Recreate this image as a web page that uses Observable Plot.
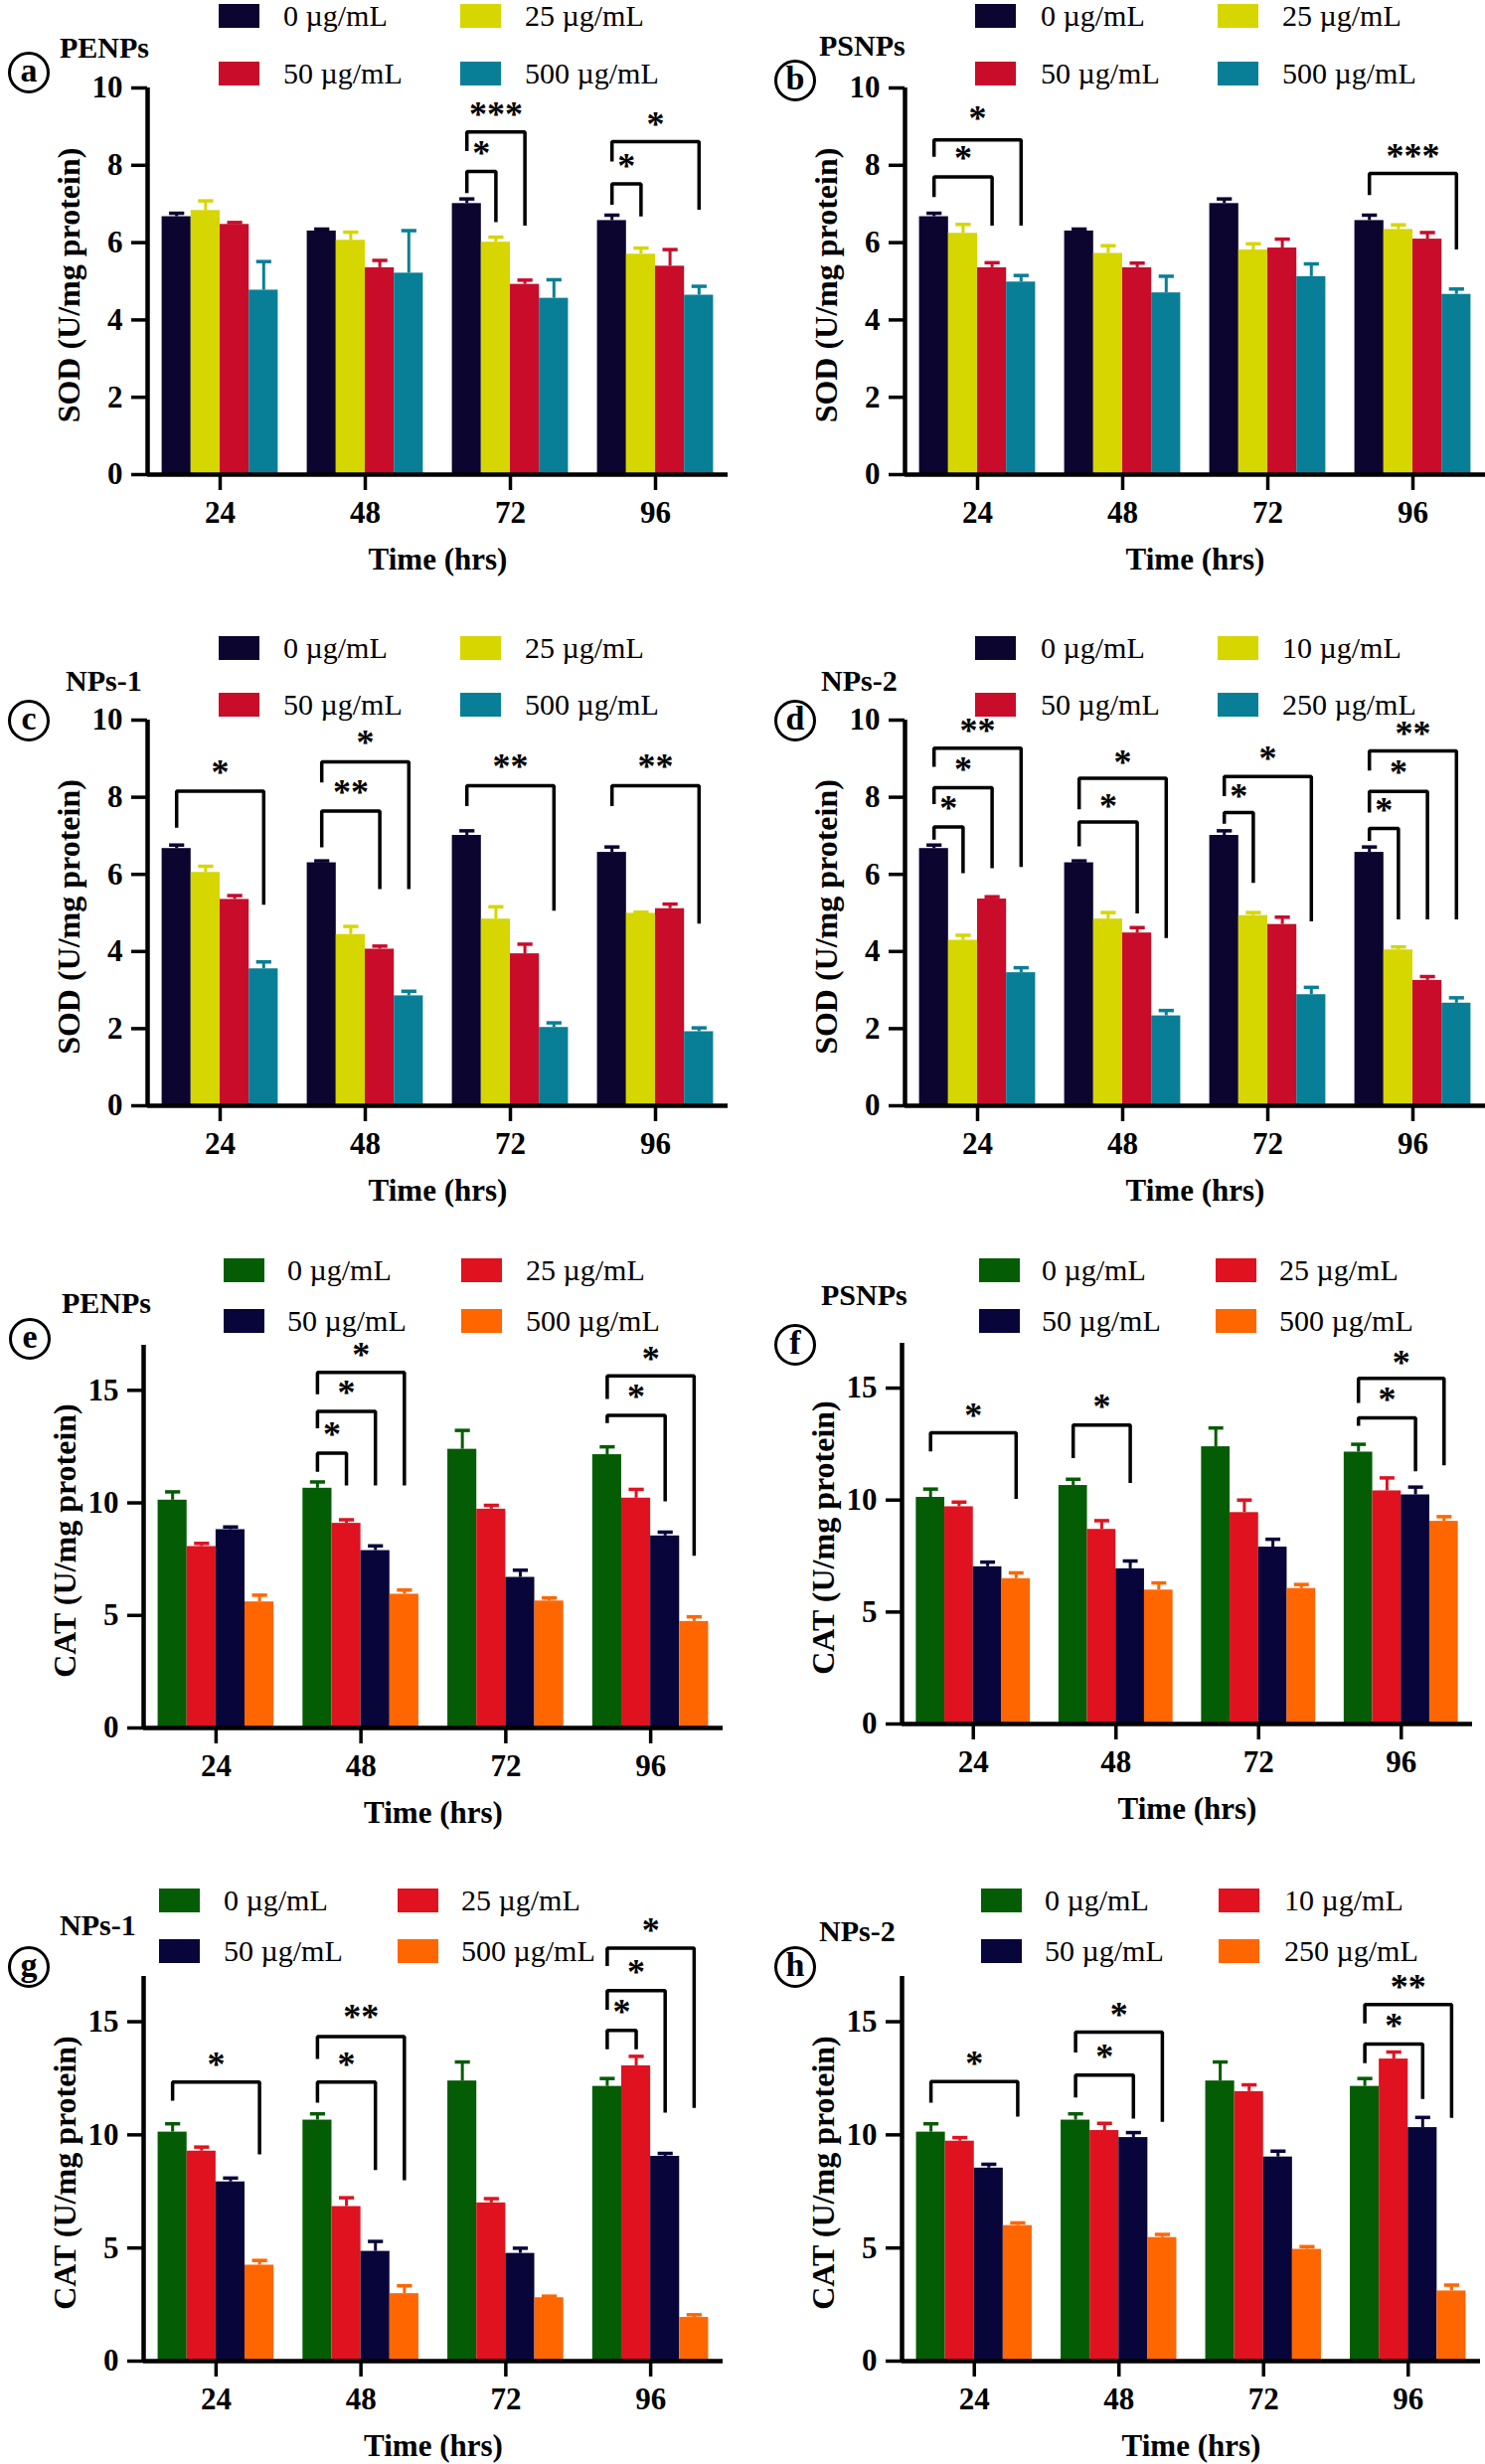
<!DOCTYPE html>
<html><head><meta charset="utf-8">
<script src="https://cdn.jsdelivr.net/npm/d3@7"></script>
<script src="https://cdn.jsdelivr.net/npm/@observablehq/plot@0.6"></script>
<style>
body{margin:0;background:#fff;}
#root{position:relative;width:1494px;height:2479px;overflow:hidden;font-family:"Liberation Serif","Times New Roman",serif;color:#000;}
.panel{position:absolute;}
.sw{position:absolute;width:41px;height:24px;}
.lt{position:absolute;font-size:30px;line-height:1;white-space:nowrap;transform:translateY(-50%);}
.ttl{position:absolute;font-size:30px;font-weight:bold;line-height:1;white-space:nowrap;transform:translateY(-50%);}
.circ{position:absolute;width:36px;height:36px;border:3px solid #000;border-radius:50%;transform:translate(-50%,-50%);display:flex;align-items:center;justify-content:center;font-size:34px;font-weight:bold;line-height:1;}
.circ span{position:relative;top:-2px;}
</style>
</head><body><div id="root"></div>
<script>
// ---------- data ----------
const times = [24, 48, 72, 96];
const labelsStd = ["0 µg/mL", "25 µg/mL", "50 µg/mL", "500 µg/mL"];
const labelsNP2 = ["0 µg/mL", "10 µg/mL", "50 µg/mL", "250 µg/mL"];
const sodColors = ["#0c0530", "#d6d600", "#c80c2a", "#087f96"];
const catColors = ["#045c04", "#e0121f", "#08053a", "#ff6600"];
const sodTicks = [0, 2, 4, 6, 8, 10];
const catTicks = [0, 5, 10, 15];

const sodCtrl = [6.67, 6.30, 7.01, 6.57];
const sodCtrlErr = [0.09, 0.05, 0.12, 0.14];
const catCtrl = [10.12, 10.65, 12.38, 12.14];
const catCtrlErr = [0.37, 0.28, 0.84, 0.35];

// (a) PENPs SOD
const aVals = [sodCtrl, [6.83, 6.06, 6.01, 5.70], [6.47, 5.35, 4.92, 5.39], [4.77, 5.21, 4.56, 4.64]];
const aErrs = [sodCtrlErr, [0.25, 0.21, 0.13, 0.16], [0.05, 0.19, 0.11, 0.43], [0.74, 1.10, 0.48, 0.23]];
// (b) PSNPs SOD
const bVals = [sodCtrl, [6.24, 5.72, 5.81, 6.34], [5.35, 5.35, 5.86, 6.09], [4.98, 4.70, 5.12, 4.66]];
const bErrs = [sodCtrlErr, [0.23, 0.20, 0.16, 0.12], [0.13, 0.12, 0.23, 0.17], [0.17, 0.43, 0.33, 0.14]];
// (c) NPs-1 SOD
const cVals = [sodCtrl, [6.05, 4.44, 4.84, 4.99], [5.35, 4.06, 3.94, 5.11], [3.55, 2.85, 2.03, 1.92]];
const cErrs = [sodCtrlErr, [0.16, 0.21, 0.32, 0.03], [0.10, 0.08, 0.25, 0.12], [0.18, 0.12, 0.12, 0.10]];
// (d) NPs-2 SOD
const dVals = [sodCtrl, [4.29, 4.84, 4.93, 4.04], [5.36, 4.48, 4.70, 3.25], [3.45, 2.33, 2.88, 2.66]];
const dErrs = [sodCtrlErr, [0.13, 0.17, 0.08, 0.08], [0.06, 0.14, 0.19, 0.10], [0.13, 0.14, 0.19, 0.14]];
// (e) PENPs CAT
const eVals = [catCtrl, [8.06, 9.09, 9.72, 10.21], [8.81, 7.88, 6.69, 8.53], [5.60, 5.94, 5.64, 4.73]];
const eErrs = [catCtrlErr, [0.14, 0.16, 0.17, 0.39], [0.12, 0.21, 0.32, 0.17], [0.30, 0.19, 0.14, 0.21]];
// (f) PSNPs CAT
const fVals = [catCtrl, [9.70, 8.69, 9.44, 10.41], [7.02, 6.93, 7.90, 10.23], [6.49, 5.98, 6.05, 9.05]];
const fErrs = [catCtrlErr, [0.21, 0.39, 0.56, 0.58], [0.21, 0.35, 0.35, 0.35], [0.26, 0.32, 0.18, 0.21]];
// (g) NPs-1 CAT
const gVals = [catCtrl, [9.28, 6.83, 6.99, 13.05], [7.92, 4.85, 4.76, 9.05], [4.24, 2.98, 2.80, 1.93]];
const gErrs = [catCtrlErr, [0.18, 0.39, 0.19, 0.42], [0.17, 0.44, 0.23, 0.13], [0.21, 0.35, 0.07, 0.12]];
// (h) NPs-2 CAT
const hVals = [catCtrl, [9.72, 10.19, 11.91, 13.35], [8.53, 9.88, 9.02, 10.32], [5.99, 5.46, 4.94, 3.10]];
const hErrs = [catCtrlErr, [0.16, 0.32, 0.30, 0.31], [0.17, 0.22, 0.26, 0.45], [0.12, 0.14, 0.12, 0.26]];

// significance brackets: [time, compared group, bracket top, left leg end, right leg end, label, label y]
const aSig = [[72, 1, 7.84, 7.28, 6.53, "*", 8.47], [72, 2, 8.86, 8.37, 6.44, "***", 9.46],
              [96, 1, 7.52, 6.98, 6.68, "*", 8.12], [96, 3, 8.61, 8.10, 6.85, "*", 9.20]];
const bSig = [[24, 2, 7.70, 7.18, 6.44, "*", 8.32], [24, 3, 8.66, 8.22, 6.44, "*", 9.36],
              [96, 3, 7.79, 7.23, 5.82, "***", 8.39]];
const cSig = [[24, 3, 8.16, 7.21, 5.21, "*", 8.79], [48, 2, 7.64, 6.70, 5.62, "**", 8.28],
              [48, 3, 8.92, 8.38, 5.62, "*", 9.56], [72, 3, 8.30, 7.77, 5.06, "**", 8.95],
              [96, 3, 8.30, 7.77, 4.72, "**", 8.95]];
const dSig = [[24, 1, 7.23, 6.90, 6.03, "*", 7.87], [24, 2, 8.25, 7.82, 6.16, "*", 8.87],
              [24, 3, 9.27, 8.79, 6.19, "**", 9.87], [48, 2, 7.36, 6.73, 4.99, "*", 7.92],
              [48, 3, 8.49, 7.69, 4.35, "*", 9.05], [72, 1, 7.60, 7.31, 5.78, "*", 8.18],
              [72, 3, 8.54, 8.03, 4.78, "*", 9.15], [96, 1, 7.19, 6.87, 4.83, "*", 7.82],
              [96, 2, 8.15, 7.60, 4.83, "*", 8.79], [96, 3, 9.20, 8.69, 4.83, "**", 9.80]];
const eSig = [[48, 1, 12.21, 11.38, 10.77, "*", 13.31], [48, 2, 14.06, 13.31, 10.77, "*", 15.15],
              [48, 3, 15.80, 14.83, 10.77, "*", 16.81], [96, 2, 13.89, 13.55, 10.07, "*", 14.97],
              [96, 3, 15.64, 14.62, 7.65, "*", 16.64]];
const fSig = [[24, 3, 13.00, 12.17, 10.05, "*", 14.02], [48, 2, 13.35, 11.87, 10.76, "*", 14.41],
              [96, 2, 13.67, 13.32, 11.29, "*", 14.73], [96, 3, 15.43, 14.34, 11.55, "*", 16.40]];
const gSig = [[24, 3, 12.33, 11.51, 9.14, "*", 13.35], [48, 2, 12.33, 11.42, 8.44, "*", 13.35],
              [48, 3, 14.34, 13.35, 8.00, "**", 15.45], [96, 1, 14.62, 13.78, 13.78, "*", 15.67],
              [96, 2, 16.37, 15.53, 10.98, "*", 17.46], [96, 3, 18.25, 17.46, 11.19, "*", 19.30]];
const hSig = [[24, 3, 12.35, 11.42, 10.81, "*", 13.40], [48, 2, 12.64, 11.65, 10.72, "*", 13.70],
              [48, 3, 14.54, 13.64, 10.58, "*", 15.57], [96, 2, 14.01, 13.17, 11.59, "*", 15.06],
              [96, 3, 15.76, 14.92, 10.75, "**", 16.76]];

// ---------- layout ----------
const BAR_W = 4.8;   // bar width in hours
const CAP = 1.25;    // half error-cap width in hours
const panels = [
  {id:"a", name:"PENPs", vals:aVals, errs:aErrs, sig:aSig, colors:sodColors, labels:labelsStd, ylabel:"SOD (U/mg protein)", yMax:10, ticks:sodTicks,
   left:0, top:0, h:620, m:[88,15,143,148], leg:{rows:[16,74], cols:[220,285,463,528]}, title:[60,48], circ:[29,73]},
  {id:"b", name:"PSNPs", vals:bVals, errs:bErrs, sig:bSig, colors:sodColors, labels:labelsStd, ylabel:"SOD (U/mg protein)", yMax:10, ticks:sodTicks,
   left:747, top:0, h:620, m:[88,0,143,163], leg:{rows:[16,74], cols:[981,1047,1225,1290]}, title:[824,46], circ:[800,81]},
  {id:"c", name:"NPs-1", vals:cVals, errs:cErrs, sig:cSig, colors:sodColors, labels:labelsStd, ylabel:"SOD (U/mg protein)", yMax:10, ticks:sodTicks,
   left:0, top:620, h:620, m:[104,15,128,148], leg:{rows:[652,709], cols:[220,285,463,528]}, title:[66,685], circ:[29,725]},
  {id:"d", name:"NPs-2", vals:dVals, errs:dErrs, sig:dSig, colors:sodColors, labels:labelsNP2, ylabel:"SOD (U/mg protein)", yMax:10, ticks:sodTicks,
   left:747, top:620, h:620, m:[104,0,128,163], leg:{rows:[652,709], cols:[981,1047,1225,1290]}, title:[826,685], circ:[800,725]},
  {id:"e", name:"PENPs", vals:eVals, errs:eErrs, sig:eSig, colors:catColors, labels:labelsStd, ylabel:"CAT (U/mg protein)", yMax:17, ticks:catTicks,
   left:0, top:1240, h:620, m:[113,20,122,144], leg:{rows:[1278,1329], cols:[225,289,464,529]}, title:[62,1311], circ:[30,1347]},
  {id:"f", name:"PSNPs", vals:fVals, errs:fErrs, sig:fSig, colors:catColors, labels:labelsStd, ylabel:"CAT (U/mg protein)", yMax:17, ticks:catTicks,
   left:747, top:1240, h:620, m:[111,13,126,160], leg:{rows:[1278,1329], cols:[985,1048,1223,1287]}, title:[826,1303], circ:[800,1353]},
  {id:"g", name:"NPs-1", vals:gVals, errs:gErrs, sig:gSig, colors:catColors, labels:labelsStd, ylabel:"CAT (U/mg protein)", yMax:17, ticks:catTicks,
   left:0, top:1860, h:619, m:[128,20,104,144], leg:{rows:[1912,1963], cols:[160,225,400,464]}, title:[60,1937], circ:[29,1979]},
  {id:"h", name:"NPs-2", vals:hVals, errs:hErrs, sig:hSig, colors:catColors, labels:labelsNP2, ylabel:"CAT (U/mg protein)", yMax:17, ticks:catTicks,
   left:747, top:1860, h:619, m:[128,5,104,160], leg:{rows:[1912,1963], cols:[987,1051,1226,1292]}, title:[824,1943], circ:[800,1979]}
];

const root = document.getElementById("root");
function el(cls, css, html) {
  const d = document.createElement("div");
  d.className = cls;
  Object.assign(d.style, css);
  if (html != null) d.innerHTML = html;
  root.appendChild(d);
  return d;
}

for (const p of panels) {
  const rows = [];
  p.vals.forEach((arr, g) => arr.forEach((v, i) => rows.push({t: times[i], g, v, e: p.errs[g][i], c: p.colors[g]})));
  const cx = d => d.t + (d.g - 1.5) * BAR_W;
  const bpts = [];
  p.sig.forEach((b, k) => {
    const x0 = b[0] - 1.5 * BAR_W, x1 = b[0] + (b[1] - 1.5) * BAR_W;
    bpts.push({k, x: x0, y: b[3]}, {k, x: x0, y: b[2]}, {k, x: x1, y: b[2]}, {k, x: x1, y: b[4]});
  });
  const stars = p.sig.map(b => ({x: b[0] + (b[1] / 2 - 1.5) * BAR_W, y: b[6], s: b[5]}));

  const svg = Plot.plot({
    width: 747, height: p.h,
    marginTop: p.m[0], marginRight: p.m[1], marginBottom: p.m[2], marginLeft: p.m[3],
    x: {domain: [12, 108]},
    y: {domain: [0, p.yMax]},
    color: {type: "identity"},
    style: {fontFamily: "'Liberation Serif','Times New Roman',serif", fontSize: "30px", fontWeight: "bold", color: "#000", background: "transparent", overflow: "visible"},
    marks: [
      Plot.rectY(rows, {x1: d => d.t + (d.g - 2) * BAR_W, x2: d => d.t + (d.g - 1) * BAR_W, y1: 0, y2: "v", fill: "c"}),
      Plot.ruleX(rows, {x: cx, y1: "v", y2: d => d.v + d.e, stroke: "c", strokeWidth: 3}),
      Plot.link(rows, {x1: d => cx(d) - CAP, x2: d => cx(d) + CAP, y1: d => d.v + d.e, y2: d => d.v + d.e, stroke: "c", strokeWidth: 3.5}),
      Plot.axisY({ticks: p.ticks, tickSize: 16, tickPadding: 9, strokeWidth: 3.5, fontSize: 31, label: null}),
      Plot.axisX({ticks: times, tickSize: 16, tickPadding: 10, strokeWidth: 3.5, fontSize: 31, label: null}),
      Plot.ruleX([12], {strokeWidth: 4.5}),
      Plot.ruleY([0], {strokeWidth: 4.5}),
      Plot.line(bpts, {x: "x", y: "y", z: "k", stroke: "#000", strokeWidth: 3.5, strokeLinejoin: "miter", strokeLinecap: "butt"}),
      Plot.text(stars, {x: "x", y: "y", text: "s", fontSize: 36, dy: 6}),
      Plot.text([p.ylabel], {frameAnchor: "left", textAnchor: "middle", lineAnchor: "middle", dx: -79, dy: 4, rotate: -90, fontSize: 32}),
      Plot.text(["Time (hrs)"], {frameAnchor: "bottom", textAnchor: "middle", lineAnchor: "middle", dy: 86, fontSize: 31})
    ]
  });
  const wrap = el("panel", {left: p.left + "px", top: p.top + "px", width: "747px", height: p.h + "px"});
  wrap.appendChild(svg);

  // legend (2 x 2)
  const [r1, r2] = p.leg.rows;
  const [s1, t1, s2, t2] = p.leg.cols;
  const pos = [[s1, t1, r1], [s2, t2, r1], [s1, t1, r2], [s2, t2, r2]];
  p.labels.forEach((lab, g) => {
    const [sx, tx, ry] = pos[g];
    el("sw", {left: sx + "px", top: (ry - 12) + "px", background: p.colors[g]});
    el("lt", {left: tx + "px", top: ry + "px"}, lab);
  });
  el("ttl", {left: p.title[0] + "px", top: p.title[1] + "px"}, p.name);
  el("circ", {left: p.circ[0] + "px", top: p.circ[1] + "px"}, "<span>" + p.id + "</span>");
}
</script></body></html>
